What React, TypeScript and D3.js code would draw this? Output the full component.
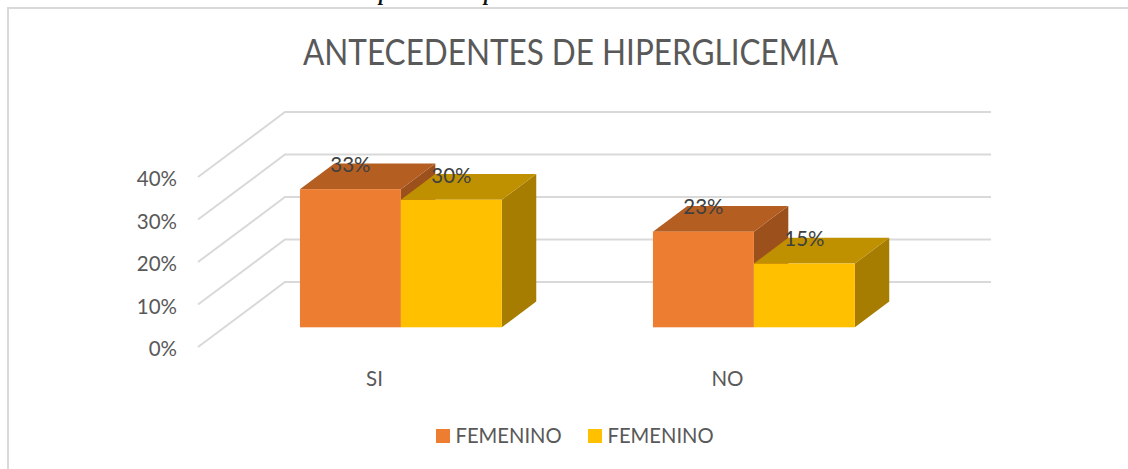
import React from 'react';
import * as d3 from 'd3';

const categories = ['SI', 'NO'];
const seriesNames = ['FEMENINO', 'FEMENINO'];
const seriesValues = [
  [32.5, 30],
  [22.5, 15],
];
const valueLabels = [
  ['33%', '30%'],
  ['23%', '15%'],
];
const ticks = [0, 10, 20, 30, 40];
const frontColors = ['#ED7D31', '#FFC000'];
const topColors = ['#B45E22', '#BF9000'];
const sideColors = ['#9C501C', '#A67D00'];

const FONT = 'Lato, sans-serif';
const GRID = '#D9D9D9';
const TEXT = '#595959';

// wall depth and bar depth (the fake 3d offset)
const wallDx = 87;
const wallDy = 65;
const barDx = 34.4;
const barDy = 25.7;
const barInsetDx = 26.4;
const barInsetDy = 19.7;

const y = d3.scaleLinear().domain([0, 40]).range([347, 177]);
const x0 = d3
  .scaleBand()
  .domain(categories)
  .range([198, 904])
  .paddingInner(0.428)
  .paddingOuter(0.214);
const x1 = d3
  .scaleBand()
  .domain(['0', '1'])
  .range([0, x0.bandwidth()]);

const poly = (pts: [number, number][]) => pts.map((p) => p.join(',')).join(' ');

const App = () => {
  const base = y(0) - barInsetDy;
  return (
    <svg
      width={1128}
      height={469}
      style={{ position: 'absolute', left: 0, top: 0, background: '#fff' }}
    >
      {/* chart frame */}
      <path d="M8 469V8H1128" fill="none" stroke={GRID} strokeWidth={2} />

      {/* cut off caption from the page above */}
      {[379, 484].map((px) => (
        <text
          key={px}
          x={px}
          y={0}
          fontFamily="'Liberation Serif', serif"
          fontStyle="italic"
          fontWeight="bold"
          fontSize={20}
          fill="#111"
        >
          p
        </text>
      ))}

      <text
        x={570.5}
        y={65}
        textAnchor="middle"
        fontFamily={FONT}
        fontSize={36}
        textLength={535}
        lengthAdjust="spacingAndGlyphs"
        fill={TEXT}
      >
        ANTECEDENTES DE HIPERGLICEMIA
      </text>

      {ticks.map((t) => (
        <g key={t}>
          <polyline
            points={poly([
              [198, y(t)],
              [198 + wallDx, y(t) - wallDy],
              [991, y(t) - wallDy],
            ])}
            fill="none"
            stroke={GRID}
            strokeWidth={2}
          />
          <text
            x={177}
            y={y(t) + 9}
            textAnchor="end"
            fontFamily={FONT}
            fontSize={20.5}
            fill={TEXT}
          >
            {t}%
          </text>
        </g>
      ))}

      {categories.map((c, i) => {
        const gx = (x0(c) as number) + barInsetDx;
        return (
          <g key={c}>
            {seriesValues[i].map((v, j) => {
              const left = gx + (x1(String(j)) as number);
              const right = left + x1.bandwidth();
              const top = y(v) - barInsetDy;
              return (
                <g key={j}>
                  <polygon
                    points={poly([
                      [right, top],
                      [right + barDx, top - barDy],
                      [right + barDx, base - barDy],
                      [right, base],
                    ])}
                    fill={sideColors[j]}
                  />
                  <polygon
                    points={poly([
                      [left, top],
                      [left + barDx, top - barDy],
                      [right + barDx, top - barDy],
                      [right, top],
                    ])}
                    fill={topColors[j]}
                  />
                  <rect x={left} y={top} width={right - left} height={base - top} fill={frontColors[j]} />
                </g>
              );
            })}
            {seriesValues[i].map((v, j) => {
              const left = gx + (x1(String(j)) as number);
              return (
                <text
                  key={j}
                  x={left + x1.bandwidth() / 2}
                  y={y(v) - barInsetDy - 17.2}
                  textAnchor="middle"
                  fontFamily={FONT}
                  fontSize={20.5}
                  fill="#404040"
                >
                  {valueLabels[i][j]}
                </text>
              );
            })}
            <text
              x={gx + x0.bandwidth() / 2 - barInsetDx}
              y={386}
              textAnchor="middle"
              fontFamily={FONT}
              fontSize={20.5}
              fill={TEXT}
            >
              {c}
            </text>
          </g>
        );
      })}

      {seriesNames.map((name, i) => {
        const lx = [436, 588][i];
        return (
          <g key={i}>
            <rect x={lx} y={429} width={14} height={14} fill={frontColors[i]} />
            <text x={lx + 19.5} y={442.5} fontFamily={FONT} fontSize={20.2} fill={TEXT}>
              {name}
            </text>
          </g>
        );
      })}
    </svg>
  );
};

export default App;
